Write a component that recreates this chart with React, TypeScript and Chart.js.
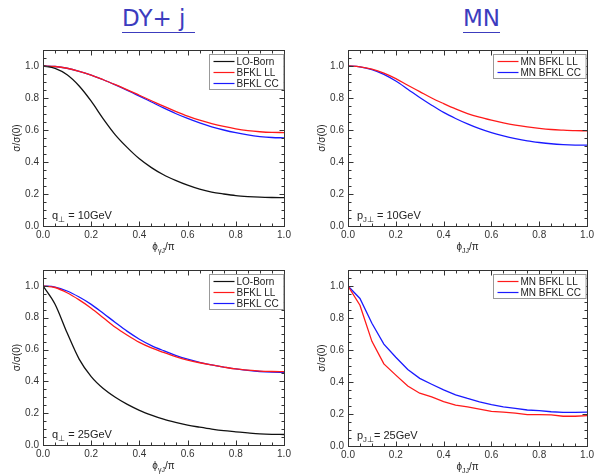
import React, { useEffect, useRef } from 'react';
import { Chart, registerables } from 'chart.js';
Chart.register(...registerables);

// ---------- data ----------
const PHI = [0, 0.05, 0.1, 0.15, 0.2, 0.25, 0.3, 0.35, 0.4, 0.45, 0.5, 0.55, 0.6, 0.65, 0.7, 0.75, 0.8, 0.85, 0.9, 0.95, 1.0];

const DY10_LO = [1.0, 0.985, 0.945, 0.875, 0.78, 0.67, 0.57, 0.49, 0.42, 0.365, 0.32, 0.285, 0.255, 0.23, 0.212, 0.2, 0.19, 0.184, 0.18, 0.178, 0.177];
const DY10_LL = [1.0, 0.997, 0.986, 0.967, 0.943, 0.914, 0.883, 0.851, 0.817, 0.783, 0.749, 0.717, 0.687, 0.661, 0.64, 0.622, 0.607, 0.596, 0.589, 0.585, 0.584];
const DY10_CC = [1.0, 0.997, 0.986, 0.967, 0.943, 0.914, 0.882, 0.848, 0.812, 0.775, 0.738, 0.703, 0.672, 0.644, 0.62, 0.6, 0.583, 0.569, 0.559, 0.553, 0.551];

const MN10_LL = [1.0, 0.995, 0.98, 0.955, 0.921, 0.88, 0.84, 0.8, 0.765, 0.732, 0.703, 0.68, 0.661, 0.644, 0.63, 0.619, 0.61, 0.603, 0.599, 0.596, 0.595];
const MN10_CC = [1.0, 0.995, 0.978, 0.948, 0.906, 0.855, 0.803, 0.755, 0.71, 0.672, 0.638, 0.608, 0.583, 0.563, 0.546, 0.532, 0.522, 0.514, 0.509, 0.506, 0.505];

const DY25_LO = [1.0, 0.885, 0.705, 0.54, 0.43, 0.355, 0.3, 0.255, 0.218, 0.188, 0.162, 0.142, 0.125, 0.112, 0.1, 0.09, 0.083, 0.076, 0.07, 0.067, 0.066];
const DY25_LL = [1.0, 0.99, 0.957, 0.912, 0.86, 0.8, 0.74, 0.69, 0.645, 0.61, 0.582, 0.556, 0.534, 0.517, 0.503, 0.49, 0.478, 0.47, 0.464, 0.462, 0.461];
const DY25_CC = [1.0, 0.993, 0.968, 0.93, 0.884, 0.828, 0.77, 0.714, 0.665, 0.625, 0.593, 0.564, 0.54, 0.52, 0.503, 0.49, 0.478, 0.469, 0.462, 0.458, 0.456];

const MN25_LL = [1.0, 0.88, 0.654, 0.513, 0.443, 0.375, 0.33, 0.307, 0.278, 0.256, 0.245, 0.231, 0.216, 0.212, 0.206, 0.196, 0.196, 0.194, 0.186, 0.186, 0.19];
const MN25_CC = [1.0, 0.922, 0.767, 0.637, 0.555, 0.478, 0.423, 0.386, 0.351, 0.32, 0.297, 0.276, 0.258, 0.245, 0.235, 0.225, 0.221, 0.214, 0.21, 0.21, 0.212];

const X_TICKS = [0, 0.2, 0.4, 0.6, 0.8, 1.0];
const Y_TICKS = [0, 0.2, 0.4, 0.6, 0.8, 1.0];
const Y_TITLE = 'σ/σ(0)';
const TITLE_LEFT = 'DY+ j';
const TITLE_RIGHT = 'MN';

// ---------- styling ----------
const FONT = "'Liberation Sans', Arial, sans-serif";
const BLACK = '#111111';
const RED = '#ff1a1a';
const BLUE = '#1a1aff';

type Seg = { t: string; sub?: boolean };

interface SeriesDef { label: string; values: number[]; color: string }
interface PanelDef {
  series: SeriesDef[];
  xTitle: Seg[];
  note: Seg[];
  smooth: boolean;
  box: { left: number; top: number; width: number; height: number };
  pad: { left: number; top: number; right: number; bottom: number };
  yW: number;
  xH: number;
}

const PANELS: PanelDef[] = [
  {
    series: [
      { label: 'LO-Born', values: DY10_LO, color: BLACK },
      { label: 'BFKL LL', values: DY10_LL, color: RED },
      { label: 'BFKL CC', values: DY10_CC, color: BLUE },
    ],
    xTitle: [{ t: 'ϕ' }, { t: 'γJ', sub: true }, { t: '/π' }],
    note: [{ t: 'q' }, { t: '⊥', sub: true }, { t: ' = 10GeV' }],
    smooth: true,
    box: { left: 0, top: 40, width: 300, height: 230 },
    pad: { left: 0, top: 10, right: 16, bottom: 0 },
    yW: 43,
    xH: 44,
  },
  {
    series: [
      { label: 'MN BFKL LL', values: MN10_LL, color: RED },
      { label: 'MN BFKL CC', values: MN10_CC, color: BLUE },
    ],
    xTitle: [{ t: 'ϕ' }, { t: 'JJ', sub: true }, { t: '/π' }],
    note: [{ t: 'p' }, { t: 'J⊥', sub: true }, { t: ' = 10GeV' }],
    smooth: true,
    box: { left: 300, top: 40, width: 297, height: 230 },
    pad: { left: 0, top: 10, right: 8, bottom: 0 },
    yW: 48,
    xH: 44,
  },
  {
    series: [
      { label: 'LO-Born', values: DY25_LO, color: BLACK },
      { label: 'BFKL LL', values: DY25_LL, color: RED },
      { label: 'BFKL CC', values: DY25_CC, color: BLUE },
    ],
    xTitle: [{ t: 'ϕ' }, { t: 'γJ', sub: true }, { t: '/π' }],
    note: [{ t: 'q' }, { t: '⊥', sub: true }, { t: ' = 25GeV' }],
    smooth: true,
    box: { left: 0, top: 260, width: 300, height: 214 },
    pad: { left: 0, top: 9, right: 16, bottom: 0 },
    yW: 43,
    xH: 29,
  },
  {
    series: [
      { label: 'MN BFKL LL', values: MN25_LL, color: RED },
      { label: 'MN BFKL CC', values: MN25_CC, color: BLUE },
    ],
    xTitle: [{ t: 'ϕ' }, { t: 'JJ', sub: true }, { t: '/π' }],
    note: [{ t: 'p' }, { t: 'J⊥', sub: true }, { t: '= 25GeV' }],
    smooth: false,
    box: { left: 300, top: 260, width: 297, height: 214 },
    pad: { left: 0, top: 8, right: 7, bottom: 0 },
    yW: 48,
    xH: 28,
  },
];

function segWidth(ctx: CanvasRenderingContext2D, segs: Seg[], size: number) {
  let w = 0;
  for (const s of segs) {
    ctx.font = `${s.sub ? size * 0.7 : size}px ${FONT}`;
    w += ctx.measureText(s.t).width;
  }
  return w;
}

function drawSegs(ctx: CanvasRenderingContext2D, segs: Seg[], x: number, baseline: number, size: number) {
  ctx.textAlign = 'left';
  ctx.textBaseline = 'alphabetic';
  for (const s of segs) {
    const fs = s.sub ? size * 0.7 : size;
    ctx.font = `${fs}px ${FONT}`;
    ctx.fillText(s.t, x, s.sub ? baseline + size * 0.25 : baseline);
    x += ctx.measureText(s.t).width;
  }
}

function makeDeco(p: PanelDef) {
  return {
    id: 'deco',
    afterDraw(chart: any) {
      const { ctx, chartArea: a, scales } = chart;
      const xs = scales.x;
      const ys = scales.y;
      ctx.save();
      const L = Math.round(a.left) + 0.5;
      const R = Math.round(a.right) + 0.5;
      const T = Math.round(a.top) + 0.5;
      const B = Math.round(a.bottom) + 0.5;
      ctx.strokeStyle = '#333';
      ctx.lineWidth = 1;
      ctx.strokeRect(L, T, R - L, B - T);
      ctx.beginPath();
      for (let i = 0; i <= 20; i++) {
        const px = Math.round(xs.getPixelForValue(i * 0.05)) + 0.5;
        const len = i % 4 === 0 ? 5 : 3;
        ctx.moveTo(px, B); ctx.lineTo(px, B - len);
        ctx.moveTo(px, T); ctx.lineTo(px, T + len);
      }
      for (let i = 0; i <= 22; i++) {
        const py = Math.round(ys.getPixelForValue(i * 0.05)) + 0.5;
        const len = i % 4 === 0 ? 5 : 3;
        ctx.moveTo(L, py); ctx.lineTo(L + len, py);
        ctx.moveTo(R, py); ctx.lineTo(R - len, py);
      }
      ctx.stroke();

      // legend
      const fs = 10;
      ctx.font = `${fs}px ${FONT}`;
      const ds = chart.data.datasets;
      let tw = 0;
      for (const d of ds) tw = Math.max(tw, ctx.measureText(d.label).width);
      const lineLen = 21;
      const bw = 4 + lineLen + 2 + tw + 5;
      const bh = 7 + 11 * (ds.length - 1) + 6;
      const bx = Math.round(a.right - 1 - bw) + 0.5;
      const by = Math.round(a.top + 4) + 0.5;
      ctx.fillStyle = '#fff';
      ctx.fillRect(bx, by, bw, bh);
      ctx.strokeStyle = '#999';
      ctx.strokeRect(bx, by, bw, bh);
      ds.forEach((d: any, i: number) => {
        const cy = by + 7 + 11 * i;
        ctx.strokeStyle = d.borderColor;
        ctx.lineWidth = 1.2;
        ctx.beginPath();
        ctx.moveTo(bx + 4, cy); ctx.lineTo(bx + 4 + lineLen, cy);
        ctx.stroke();
        ctx.fillStyle = '#222';
        ctx.font = `${fs}px ${FONT}`;
        ctx.textAlign = 'left';
        ctx.textBaseline = 'middle';
        ctx.fillText(d.label, bx + 4 + lineLen + 2, cy + 0.5);
      });

      // note
      ctx.fillStyle = '#222';
      drawSegs(ctx, p.note, a.left + 9, a.bottom - 7, 11);

      // x title
      const xw = segWidth(ctx, p.xTitle, 10);
      drawSegs(ctx, p.xTitle, (a.left + a.right) / 2 - xw / 2, a.bottom + 24, 10);

      // y title
      ctx.translate(a.left - 26, (a.top + a.bottom) / 2);
      ctx.rotate(-Math.PI / 2);
      ctx.font = `10px ${FONT}`;
      ctx.textAlign = 'center';
      ctx.textBaseline = 'middle';
      ctx.fillText(Y_TITLE, 0, 0);
      ctx.restore();
    },
  };
}

function Panel({ p }: { p: PanelDef }) {
  const ref = useRef<HTMLCanvasElement | null>(null);
  useEffect(() => {
    if (!ref.current) return;
    const tickFont = { family: FONT, size: 10 };
    const chart = new Chart(ref.current, {
      type: 'line',
      data: {
        datasets: p.series.map((s) => ({
          label: s.label,
          data: PHI.map((x, i) => ({ x, y: s.values[i] })),
          borderColor: s.color,
          backgroundColor: s.color,
          borderWidth: 1.3,
          pointRadius: 0,
          tension: p.smooth ? 0.4 : 0,
          cubicInterpolationMode: p.smooth ? 'monotone' : 'default',
          fill: false,
        })),
      },
      options: {
        animation: false,
        responsive: false,
        devicePixelRatio: 1,
        layout: { padding: p.pad },
        plugins: { legend: { display: false }, tooltip: { enabled: false }, title: { display: false } },
        scales: {
          x: {
            type: 'linear',
            min: 0,
            max: 1,
            afterFit: (s: any) => { s.height = p.xH; },
            afterBuildTicks: (s: any) => { s.ticks = X_TICKS.map((v) => ({ value: v })); },
            grid: { display: false, drawTicks: false },
            border: { display: false },
            ticks: {
              font: tickFont,
              color: '#333',
              padding: 3,
              maxRotation: 0,
              autoSkip: false,
              callback: (v: any) => Number(v).toFixed(1),
            },
          },
          y: {
            type: 'linear',
            min: 0,
            max: 1.1,
            afterFit: (s: any) => { s.width = p.yW; },
            afterBuildTicks: (s: any) => { s.ticks = Y_TICKS.map((v) => ({ value: v })); },
            grid: { display: false, drawTicks: false },
            border: { display: false },
            ticks: {
              font: tickFont,
              color: '#333',
              padding: 4,
              callback: (v: any) => Number(v).toFixed(1),
            },
          },
        },
      } as any,
      plugins: [makeDeco(p)],
    });
    return () => chart.destroy();
  }, [p]);
  return (
    <canvas
      ref={ref}
      width={p.box.width}
      height={p.box.height}
      style={{ position: 'absolute', left: p.box.left, top: p.box.top, width: p.box.width, height: p.box.height }}
    />
  );
}

const titleStyle: React.CSSProperties = {
  position: 'absolute',
  top: 7,
  fontFamily: "'DejaVu Sans', sans-serif",
  fontSize: 23,
  lineHeight: '23px',
  color: '#3c3cbe',
  whiteSpace: 'pre',
  paddingBottom: 2,
  borderBottom: '1.5px solid #3c3cbe',
};

export default function App() {
  return (
    <div style={{ position: 'absolute', left: 0, top: 0, width: 597, height: 474, background: '#fff', overflow: 'hidden' }}>
      <div style={{ ...titleStyle, left: 122, paddingRight: 10 }}>{TITLE_LEFT}</div>
      <div style={{ ...titleStyle, left: 463 }}>{TITLE_RIGHT}</div>
      {PANELS.map((p, i) => (
        <Panel key={i} p={p} />
      ))}
    </div>
  );
}
